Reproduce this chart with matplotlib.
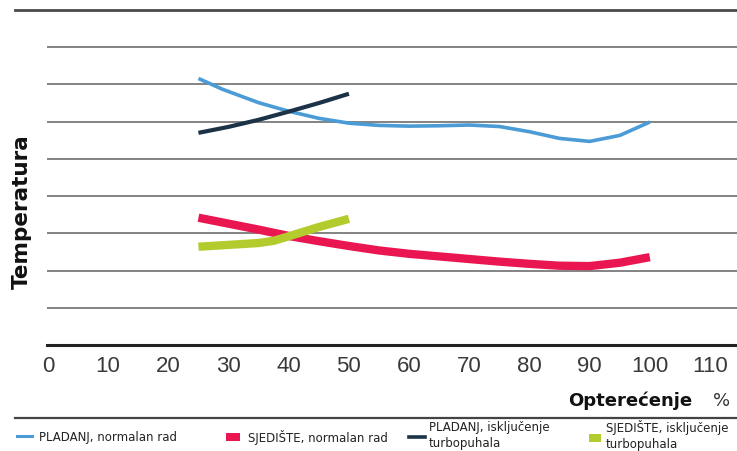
import matplotlib
matplotlib.use("Agg")
import matplotlib.pyplot as plt
from matplotlib.lines import Line2D
from matplotlib.patches import Rectangle

# Load (%) and relative temperature
x_pladanj = [25, 29, 35, 40, 45, 50, 55, 60, 65, 70, 75, 80, 85, 90, 95, 100]
y_pladanj = [7.16, 6.87, 6.51, 6.28, 6.09, 5.96, 5.90, 5.88, 5.89, 5.91, 5.87, 5.73, 5.55, 5.47, 5.63, 5.99]

x_sjediste = [25, 30, 35, 40, 45, 50, 55, 60, 65, 70, 75, 80, 85, 90, 95, 100]
y_sjediste = [3.42, 3.26, 3.10, 2.93, 2.79, 2.66, 2.54, 2.45, 2.38, 2.31, 2.24, 2.18, 2.13, 2.12, 2.21, 2.36]

x_pladanj_off = [25, 30, 35, 40, 45, 50]
y_pladanj_off = [5.70, 5.86, 6.05, 6.27, 6.50, 6.75]

x_sjediste_off = [25, 30, 35, 37.5, 40, 45, 50]
y_sjediste_off = [2.64, 2.69, 2.74, 2.80, 2.92, 3.17, 3.39]

x_ticks = list(range(0, 111, 10))
grid_levels = [1, 2, 3, 4, 5, 6, 7, 8]

labels = ["PLADANJ, normalan rad", "SJEDIŠTE, normalan rad",
          "PLADANJ, isključenje\nturbopuhala", "SJEDIŠTE, isključenje\nturbopuhala"]
colors = ["#4a9bd6", "#ea1651", "#1c3347", "#b4cb2e"]

W, H = 737, 452
fig = plt.figure(figsize=(W / 100, H / 100), dpi=100)

# axes: x=0 at px 48, x=110 at px 710; y=0 at px 346, y=9 at px 11
ppu = (710 - 48) / 110
ax = fig.add_axes([47 / W, (H - 346) / H, (W - 47) / W, (346 - 11) / H])
ax.set_xlim((47 - 48) / ppu, (W - 48) / ppu)
ax.set_ylim(0, 9)
for s in ax.spines.values():
    s.set_visible(False)

for g in grid_levels:
    ax.axhline(g, color="#7a7a7a", lw=1.3, zorder=1)
ax.axhline(0, color="#222222", lw=2.2, zorder=1, clip_on=False)
ax.axhline(9, xmin=-(47 - 15) / (W - 47), xmax=1, color="#4a4a4a", lw=2.0, zorder=1, clip_on=False)

ax.plot(x_pladanj, y_pladanj, color=colors[0], lw=2.6, solid_capstyle="butt", zorder=3)
ax.plot(x_sjediste, y_sjediste, color=colors[1], lw=6, solid_capstyle="butt", zorder=3)
ax.plot(x_pladanj_off, y_pladanj_off, color=colors[2], lw=3, solid_capstyle="butt", zorder=3)
ax.plot(x_sjediste_off, y_sjediste_off, color=colors[3], lw=6, solid_capstyle="butt", zorder=3)

ax.set_xticks(x_ticks)
ax.set_xticklabels([str(t) for t in x_ticks], fontsize=16, color="#3a3a3a", family="Liberation Sans")
ax.tick_params(axis="x", length=0, pad=7)
ax.set_yticks([])

# axis titles
fig.text(22 / W, 1 - 212 / H, "Temperatura", rotation=90, ha="center", va="center",
         fontsize=15.5, fontweight="bold", color="#111111")
fig.text(568 / W, 1 - 406 / H, "Opterećenje", ha="left", va="baseline",
         fontsize=13, fontweight="bold", color="#111111")
fig.text(713 / W, 1 - 406 / H, "%", ha="left", va="baseline", fontsize=13, color="#333333")

# separator above legend
fig.add_artist(Line2D([15 / W, 1], [1 - 419 / H, 1 - 419 / H], color="#444444", lw=1.6))

# legend, drawn by hand
def px(x, y):
    return x / W, 1 - y / H

fig.add_artist(Line2D([17 / W, 32 / W], [1 - 437 / H] * 2, color=colors[0], lw=2.2))
fig.text(*px(39, 437.5), labels[0], ha="left", va="center", fontsize=8.5, color="#222222")

fig.add_artist(Rectangle(px(226, 442), 14 / W, 8 / H, color=colors[1], lw=0))
fig.text(*px(248, 437.5), labels[1], ha="left", va="center", fontsize=8.5, color="#222222")

fig.add_artist(Line2D([409 / W, 425 / W], [1 - 438 / H] * 2, color=colors[2], lw=2.6))
fig.text(*px(429, 435.5), labels[2], ha="left", va="center", fontsize=8.5, color="#222222",
         linespacing=1.3)

fig.add_artist(Rectangle(px(589, 443), 12 / W, 8 / H, color=colors[3], lw=0))
fig.text(*px(606, 435.5), labels[3], ha="left", va="center", fontsize=8.5, color="#222222",
         linespacing=1.3)

plt.savefig("out.png", dpi=100)
